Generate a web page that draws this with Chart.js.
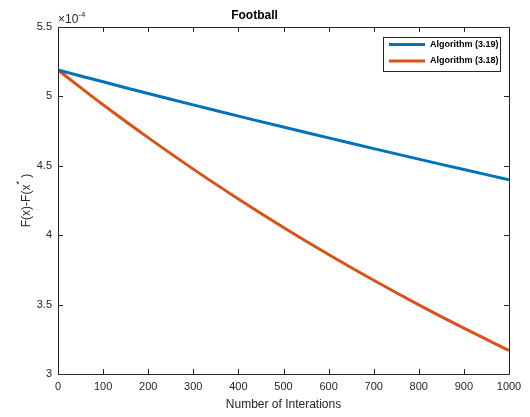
<!DOCTYPE html>
<html>
<head>
<meta charset="utf-8">
<script src="https://cdn.jsdelivr.net/npm/chart.js@4.4.0/dist/chart.umd.min.js"></script>
<style>
  html, body { margin: 0; padding: 0; background: #fff; }
  #wrap { width: 530px; height: 417px; }
</style>
</head>
<body>
<div id="wrap"><canvas id="footballChart" width="530" height="417"></canvas></div>
<script>
// データ (値は ×10^-4)
const iterations = [0, 100, 200, 300, 400, 500, 600, 700, 800, 900, 1000];
const alg319 = [5.19, 5.105, 5.021, 4.939, 4.858, 4.779, 4.701, 4.624, 4.548, 4.473, 4.40];
const alg318 = [5.19, 4.940, 4.703, 4.476, 4.261, 4.056, 3.861, 3.675, 3.498, 3.330, 3.17];
const xTicks = [0, 100, 200, 300, 400, 500, 600, 700, 800, 900, 1000];
const yTicks = [3, 3.5, 4, 4.5, 5, 5.5];

const FONT = 'Liberation Sans, Arial, Helvetica, sans-serif';
const AXIS_COLOR = '#262626';

// 枠・内向き目盛り・凡例・Y軸タイトル
const matlabAxes = {
    id: 'matlabAxes',
    afterDraw(chart) {
        const ctx = chart.ctx;
        const a = chart.chartArea;
        const xs = chart.scales.x;
        const ys = chart.scales.y;
        const tl = 5;

        ctx.save();
        ctx.strokeStyle = AXIS_COLOR;
        ctx.lineWidth = 1;
        ctx.beginPath();
        ctx.rect(Math.round(a.left) + 0.5, Math.round(a.top) + 0.5,
                 Math.round(a.right - a.left), Math.round(a.bottom - a.top));
        ctx.stroke();

        ctx.beginPath();
        xTicks.forEach(v => {
            const px = Math.round(xs.getPixelForValue(v)) + 0.5;
            ctx.moveTo(px, a.bottom); ctx.lineTo(px, a.bottom - tl);
            ctx.moveTo(px, a.top); ctx.lineTo(px, a.top + tl);
        });
        yTicks.forEach(v => {
            const py = Math.round(ys.getPixelForValue(v)) + 0.5;
            ctx.moveTo(a.left, py); ctx.lineTo(a.left + tl, py);
            ctx.moveTo(a.right, py); ctx.lineTo(a.right - tl, py);
        });
        ctx.stroke();

        // ×10^-4
        ctx.fillStyle = AXIS_COLOR;
        ctx.textBaseline = 'alphabetic';
        ctx.textAlign = 'left';
        ctx.font = '12px ' + FONT;
        ctx.fillText('\u00d710', a.left, a.top - 4);
        const w = ctx.measureText('\u00d710').width;
        ctx.font = '8px ' + FONT;
        ctx.fillText('-4', a.left + w, a.top - 10);

        // Y軸タイトル
        ctx.save();
        ctx.translate(27, (a.top + a.bottom) / 2);
        ctx.rotate(-Math.PI / 2);
        const t1 = 'F(x)-F(x';
        const t3 = ' )';
        ctx.font = '12px ' + FONT;
        const w1 = ctx.measureText(t1).width;
        const w3 = ctx.measureText(t3).width;
        ctx.font = '9px ' + FONT;
        const w2 = ctx.measureText('*').width;
        const x0 = -(w1 + w2 + w3) / 2;
        ctx.textBaseline = 'middle';
        ctx.font = '12px ' + FONT;
        ctx.fillText(t1, x0, 0);
        ctx.font = '9px ' + FONT;
        ctx.fillText('*', x0 + w1, -7);
        ctx.font = '12px ' + FONT;
        ctx.fillText(t3, x0 + w1 + w2, 0);
        ctx.restore();

        // 凡例
        const bx = 383.5, by = 37.5, bw = 117, bh = 34;
        ctx.fillStyle = '#fff';
        ctx.fillRect(bx, by, bw, bh);
        ctx.strokeStyle = AXIS_COLOR;
        ctx.lineWidth = 1;
        ctx.strokeRect(bx, by, bw, bh);
        ctx.font = 'bold 9px ' + FONT;
        ctx.textBaseline = 'middle';
        chart.data.datasets.forEach((ds, i) => {
            const ly = 44.5 + i * 16.5;
            ctx.strokeStyle = ds.borderColor;
            ctx.lineWidth = 3;
            ctx.beginPath();
            ctx.moveTo(389, ly);
            ctx.lineTo(425, ly);
            ctx.stroke();
            ctx.fillStyle = '#000';
            ctx.fillText(ds.label, 430, ly);
        });
        ctx.restore();
    }
};

const ctx = document.getElementById('footballChart').getContext('2d');
new Chart(ctx, {
    type: 'line',
    data: {
        labels: iterations,
        datasets: [{
            label: 'Algorithm (3.19)',
            data: iterations.map((x, i) => ({ x: x, y: alg319[i] })),
            borderColor: '#0072BD',
            borderWidth: 3,
            pointRadius: 0,
            tension: 0.4,
            fill: false
        }, {
            label: 'Algorithm (3.18)',
            data: iterations.map((x, i) => ({ x: x, y: alg318[i] })),
            borderColor: '#D95319',
            borderWidth: 3,
            pointRadius: 0,
            tension: 0.4,
            fill: false
        }]
    },
    options: {
        responsive: false,
        animation: false,
        layout: { padding: { top: 0, right: 21, bottom: 0, left: 0 } },
        plugins: {
            legend: { display: false },
            tooltip: { enabled: false },
            title: {
                display: true,
                text: 'Football',
                color: '#000',
                font: { family: FONT, size: 12, weight: 'bold' },
                padding: { top: 8, bottom: 4.6 }
            }
        },
        scales: {
            x: {
                type: 'linear',
                min: 0,
                max: 1000,
                afterFit: s => { s.height = 43; },
                afterBuildTicks: s => { s.ticks = xTicks.map(v => ({ value: v })); },
                grid: { display: false, drawTicks: false },
                border: { display: false },
                ticks: {
                    color: AXIS_COLOR,
                    font: { family: FONT, size: 11 },
                    padding: 6,
                    maxRotation: 0,
                    callback: v => String(v)
                },
                title: {
                    display: true,
                    text: 'Number of Interations',
                    color: AXIS_COLOR,
                    font: { family: FONT, size: 12 },
                    padding: { top: 0, bottom: 5 }
                }
            },
            y: {
                min: 3,
                max: 5.5,
                afterFit: s => { s.width = 58; },
                afterBuildTicks: s => { s.ticks = yTicks.map(v => ({ value: v })); },
                grid: { display: false, drawTicks: false },
                border: { display: false },
                ticks: {
                    color: AXIS_COLOR,
                    font: { family: FONT, size: 11 },
                    padding: 6,
                    callback: v => String(v)
                }
            }
        }
    },
    plugins: [matlabAxes]
});
</script>
</body>
</html>
